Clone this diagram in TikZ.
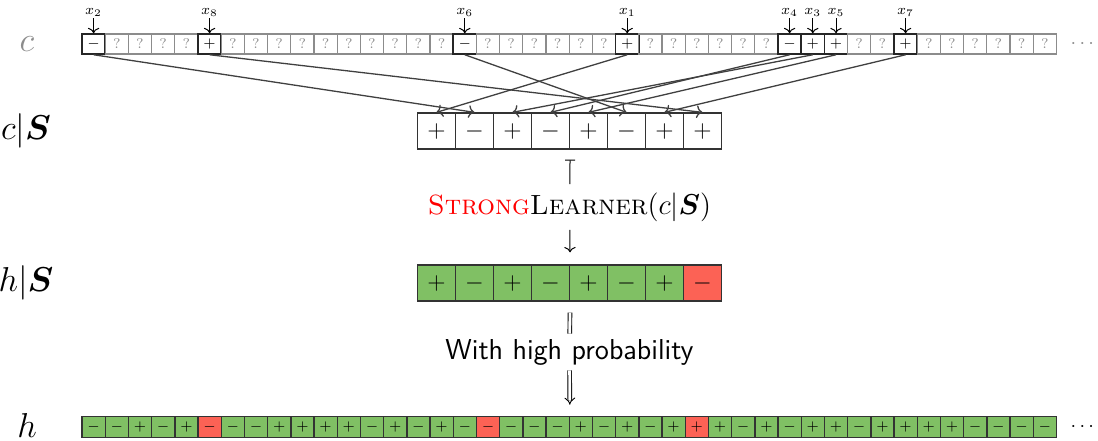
\documentclass[tikz,border=0pt]{standalone}
\usepackage{amsmath}
\usetikzlibrary{arrows.meta}
\definecolor{okgreen}{RGB}{128,192,100}
\definecolor{badred}{RGB}{252,98,85}
\newcommand\symq{?}
\newcommand\symp{$+$}
\newcommand\symm{$-$}
\begin{document}
\begin{tikzpicture}[x=0.5pt,y=-0.5pt,
  lab/.style={font=\fontsize{16.5}{20}\selectfont, inner sep=0pt},
  unk/.style={draw=black!45, text=black!45, line width=0.55pt, minimum width=11.6pt, minimum height=10pt, inner sep=0pt, font=\scriptsize},
  known/.style={draw=black!85, fill=white, line width=0.75pt, minimum width=11.6pt, minimum height=10pt, inner sep=0pt, font=\scriptsize},
  cellq/.style={unk}, cellp/.style={known}, cellm/.style={known},
  scell/.style={draw=black!80, line width=0.65pt, minimum width=19pt, minimum height=18pt, inner sep=0pt, font=\large},
  hcell/.style={draw=black!80, line width=0.7pt, minimum width=11.6pt, minimum height=10.5pt, inner sep=0pt, font=\scriptsize},
  xlab/.style={font=\scriptsize, inner sep=1pt},
  conn/.style={draw=black!75, line width=0.65pt, -{To}},
  down/.style={draw=black, line width=0.5pt, -{To}},
]
\useasboundingbox (0,0) rectangle (1098,440);

% row labels
\node[lab, text=black!45] (lc) at (27,44) {$c$};
\node[lab] (lcs) at (26,131) {$c|\boldsymbol{S}$};
\node[lab] (lhs) at (26,283) {$h|\boldsymbol{S}$};
\node[lab] (lh) at (27,425) {$h$};

% c row
\foreach \i/\s in {0/m,1/q,2/q,3/q,4/q,5/p,6/q,7/q,8/q,9/q,10/q,11/q,12/q,13/q,14/q,15/q,16/m,17/q,18/q,19/q,20/q,21/q,22/q,23/p,24/q,25/q,26/q,27/q,28/q,29/q,30/m,31/p,32/p,33/q,34/q,35/p,36/q,37/q,38/q,39/q,40/q,41/q}
  \node[cell\s] (c\i) at ({93.6+23.2*\i},44) {\csname sym\s\endcsname};
\node[text=black!45] (dc) at (1084,44) {$\cdots$};

% sample labels
\foreach \j/\i in {1/23,2/0,3/31,4/30,5/32,6/16,7/35,8/5}{
  \node[xlab] (l\j) at ({93.6+23.2*\i},12) {$x_{\j}$};
  \draw[down] (l\j.south) -- (c\i.north);
}

% c|S
\foreach \j/\s in {1/+,2/-,3/+,4/-,5/+,6/-,7/+,8/+}
  \node[scell] (s\j) at ({398.5+38*\j},131) {$\s$};

% connectors
\foreach \j/\i in {1/23,2/0,3/31,4/30,5/32,6/16,7/35,8/5}
  \draw[conn] (c\i.south) -- (s\j.north);

% h|S
\foreach \j/\s/\f in {1/+/okgreen,2/-/okgreen,3/+/okgreen,4/-/okgreen,5/+/okgreen,6/-/okgreen,7/+/okgreen,8/-/badred}
  \node[scell, fill=\f] (hs\j) at ({398.5+38*\j},283) {$\s$};

% learner
\node[font=\fontsize{13.9}{17}\selectfont, inner sep=4pt] (sl) at (569.5,207) {\textsc{\textcolor{red}{Strong}Learner}$(c|\boldsymbol{S})$};
\draw[line width=0.5pt, {Bar[width=5pt]}-, shorten <=5pt] (s4.south east) -- (sl);
\draw[line width=0.5pt, -{To}, shorten >=6pt] (sl) -- (hs4.north east);

% with high probability
\node[font=\Large\sffamily, inner sep=2.5pt] (wp) at (569.5,352) {With high probability};
\draw[double, double distance=1.4pt, line width=0.45pt, shorten <=5.5pt] (hs4.south east) -- (wp);

% h row
\foreach \i/\s/\f in {0/-/okgreen,1/-/okgreen,2/+/okgreen,3/-/okgreen,4/+/okgreen,5/-/badred,6/-/okgreen,7/-/okgreen,8/+/okgreen,9/+/okgreen,10/+/okgreen,11/+/okgreen,12/-/okgreen,13/+/okgreen,14/-/okgreen,15/+/okgreen,16/-/okgreen,17/-/badred,18/-/okgreen,19/-/okgreen,20/-/okgreen,21/+/okgreen,22/-/okgreen,23/+/okgreen,24/-/okgreen,25/+/okgreen,26/+/badred,27/+/okgreen,28/-/okgreen,29/+/okgreen,30/-/okgreen,31/+/okgreen,32/+/okgreen,33/-/okgreen,34/+/okgreen,35/+/okgreen,36/+/okgreen,37/+/okgreen,38/-/okgreen,39/-/okgreen,40/-/okgreen,41/-/okgreen}
  \node[hcell, fill=\f] (h\i) at ({93.6+23.2*\i},427) {$\s$};
\node (dh) at (1084,427) {$\cdots$};

\draw[double, double distance=1.4pt, line width=0.45pt, -{Implies}, shorten >=5.5pt] (wp) -- (h20.north east);
\end{tikzpicture}
\end{document}
